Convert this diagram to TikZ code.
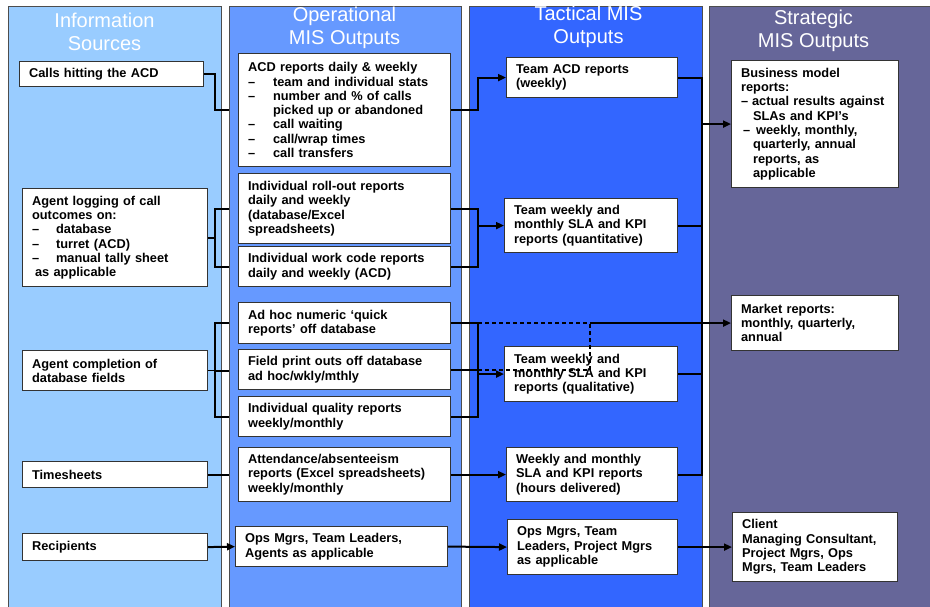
\documentclass[tikz,border=0pt]{standalone}
\usepackage{fontspec}
\setmainfont{Liberation Sans}
\usetikzlibrary{arrows.meta,calc}
\definecolor{colA}{HTML}{99CCFF}
\definecolor{colB}{HTML}{6699FF}
\definecolor{colC}{HTML}{3366FF}
\definecolor{colD}{HTML}{666699}
\definecolor{boxedge}{HTML}{333333}
\definecolor{coledge}{HTML}{4D4D4D}
\newcommand{\dashitem}[2][24pt]{\makebox[#1][l]{\textendash}#2}
\begin{document}
\begin{tikzpicture}[x=1pt,y=-1pt,
  column/.style={draw=coledge, line width=1.2pt, anchor=north west, inner sep=0pt},
  coltitle/.style={text=white, align=center, font=\fontsize{20}{23}\selectfont},
  box/.style={draw=boxedge, fill=white, line width=1.2pt, anchor=north west, align=left,
    inner xsep=9.5pt, inner ysep=0pt, font=\bfseries\fontsize{12.8}{14.3}\selectfont},
  conn/.style={line width=2pt, draw=black},
  thinconn/.style={line width=1.2pt, draw=black},
  arr/.style={conn, -{Triangle[length=8pt,width=7pt]}},
  dconn/.style={conn, dash pattern=on 4pt off 3pt}
]
\useasboundingbox (0,0) rectangle (930,607);
\fill[white] (0,0) rectangle (930,607);
% columns
\node[column, fill=colA, minimum width=213pt, minimum height=610pt] (col1) at (8,6) {};
\node[column, fill=colB, minimum width=232pt, minimum height=610pt] (col2) at (229,6) {};
\node[column, fill=colC, minimum width=233pt, minimum height=610pt] (col3) at (469,6) {};
\node[column, fill=colD, minimum width=230pt, minimum height=610pt] (col4) at (709,6) {};
% titles
\node[coltitle] (t1) at (104.5,31.5) {Information\\Sources};
\node[coltitle] (t2) at (344.5,27.5) {Operational\\MIS Outputs};
\node[coltitle] (t3) at (588.5,27) {Tactical MIS\\Outputs};
\node[coltitle] (t4) at (813.5,31) {Strategic\\MIS Outputs};
% column 1
\node[box, text width=165pt, minimum height=25pt] (calls) at (19,61) {Calls hitting the ACD};
\node[box, text width=166pt, minimum height=98pt] (logging) at (22,188) {Agent logging of call\\outcomes on:\\\dashitem{database}\\\dashitem{turret (ACD)}\\\dashitem{manual tally sheet}\\\hspace*{3pt}as applicable};
\node[box, text width=166pt, minimum height=40pt] (completion) at (22,350) {Agent completion of\\database fields};
\node[box, text width=166pt, minimum height=26pt] (timesheets) at (22,461) {Timesheets};
\node[box, text width=166pt, minimum height=27pt] (recipients) at (22,533) {Recipients};
% column 2
\node[box, text width=193pt, minimum height=113pt] (acd) at (238,53) {ACD reports daily \& weekly\\\dashitem[25pt]{team and individual stats}\\\dashitem[25pt]{number and \% of calls}\\\hspace*{25pt}picked up or abandoned\\\dashitem[25pt]{call waiting}\\\dashitem[25pt]{call/wrap times}\\\dashitem[25pt]{call transfers}};
\node[box, text width=193pt, minimum height=70pt] (rollout) at (238,173) {Individual roll-out reports\\daily and weekly\\(database/Excel\\spreadsheets)};
\node[box, text width=193pt, minimum height=40pt] (workcode) at (238,246) {Individual work code reports\\daily and weekly (ACD)};
\node[box, text width=193pt, minimum height=41pt] (adhoc) at (238,302) {Ad hoc numeric `quick\\reports' off database};
\node[box, text width=193pt, minimum height=40pt] (field) at (238,349) {Field print outs off database\\ad hoc/wkly/mthly};
\node[box, text width=193pt, minimum height=40pt] (quality) at (238,396) {Individual quality reports\\weekly/monthly};
\node[box, text width=193pt, minimum height=54pt] (attendance) at (238,447) {Attendance/absenteeism\\reports (Excel spreadsheets)\\weekly/monthly};
\node[box, text width=193pt, minimum height=40pt] (opsa) at (235,526) {Ops Mgrs, Team Leaders,\\Agents as applicable};
% column 3
\node[box, text width=152pt, minimum height=40pt] (teamacd) at (506,57) {Team ACD reports\\(weekly)};
\node[box, text width=154pt, minimum height=54pt] (quant) at (504,198) {Team weekly and\\monthly SLA and KPI\\reports (quantitative)};
\node[box, text width=154pt, minimum height=55pt] (qual) at (504,346) {Team weekly and\\monthly SLA and KPI\\reports (qualitative)};
\node[box, text width=152pt, minimum height=54pt] (hours) at (506,447) {Weekly and monthly\\SLA and KPI reports\\(hours delivered)};
\node[box, text width=151pt, minimum height=55pt] (opsb) at (507,519) {Ops Mgrs, Team\\Leaders, Project Mgrs\\as applicable};
% column 4
\node[box, text width=148pt, minimum height=127pt] (business) at (731,60) {Business model\\reports:\\\dashitem[11pt]{actual results against}\\\hspace*{12pt}SLAs and KPI's\\\makebox[15pt][l]{\,\textendash}weekly, monthly,\\\hspace*{12pt}quarterly, annual\\\hspace*{12pt}reports, as\\\hspace*{12pt}applicable};
\node[box, text width=148pt, minimum height=55pt] (market) at (731,295) {Market reports:\\monthly, quarterly,\\annual};
\node[box, text width=146pt, minimum height=69pt] (client) at (732,512) {Client\\Managing Consultant,\\Project Mgrs, Ops\\Mgrs, Team Leaders};
% bus coordinates
\coordinate (bL) at (215,0);
\coordinate (bR) at (478,0);
\coordinate (bD) at (590,0);
\coordinate (bT) at (702,0);
% sources -> operational
\draw[conn] (calls.east) -- (calls.east -| bL) -- (acd.west -| bL) -- (acd.west -| col2.west);
\draw[conn] (logging.east) -- (logging.east -| bL);
\draw[conn] (rollout.west -| col2.west) -- (rollout.west -| bL) -- (workcode.west -| bL) -- (workcode.west -| col2.west);
\draw[thinconn] (completion.east) -- (completion.east -| bL);
\draw[conn] (adhoc.west -| col2.west) -- (adhoc.west -| bL) -- (quality.west -| bL) -- (quality.west -| col2.west);
\draw[conn] (completion.east -| bL) -- (completion.east -| col2.west);
\draw[conn] (timesheets.east) -- (timesheets.east -| col2.west);
\draw[arr] (recipients.east) -- (opsa.west);
% operational -> tactical
\draw[arr] (acd.east) -- (acd.east -| bR) |- (teamacd.west);
\draw[conn] (rollout.east) -- (rollout.east -| bR) -- (workcode.east -| bR) -- (workcode.east);
\draw[arr] (quant.west -| bR) -- (quant.west);
\draw[conn] (adhoc.east) -- (adhoc.east -| bR) -- (quality.east -| bR) -- (quality.east);
\draw[conn] (field.east) -- (field.east -| bR);
\draw[arr] (qual.west -| bR) -- (qual.west);
\draw[arr] (attendance.east) -- (hours.west);
\draw[arr] (opsa.east) -- (opsb.west);
% dashed links to market reports
\draw[dconn] (adhoc.east -| bR) -- (adhoc.east -| bD);
\draw[dconn] (field.east -| bR) -| (adhoc.east -| bD);
\draw[arr] (adhoc.east -| bD) -- (market.west);
% tactical -> strategic
\draw[conn] (teamacd.east) -- (teamacd.east -| bT) -- (hours.east -| bT) -- (hours.east);
\draw[conn] (quant.east) -- (quant.east -| bT);
\draw[conn] (qual.east) -- (qual.east -| bT);
\draw[arr] (business.west -| bT) -- (business.west);
\draw[arr] (opsb.east) -- (client.west);
\end{tikzpicture}
\end{document}
